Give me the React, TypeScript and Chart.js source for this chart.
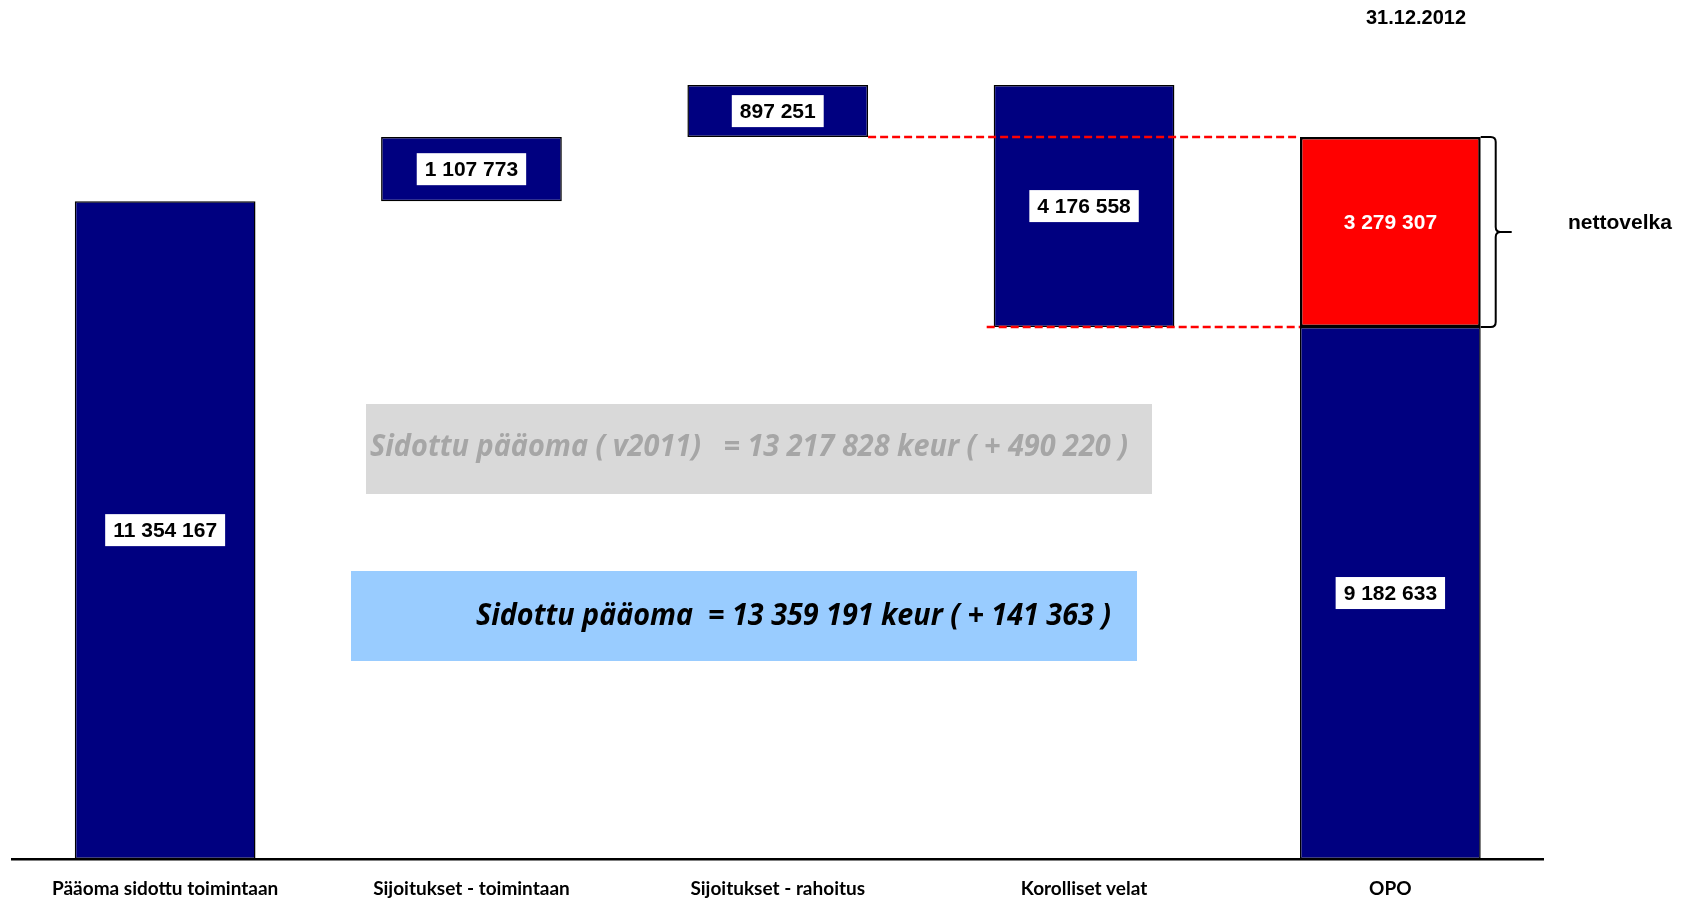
import React, { useEffect, useRef } from 'react';
import { Chart, registerables } from 'chart.js';

Chart.register(...registerables);

// ---- Data ----
const categories = [
  'Pääoma sidottu toimintaan',
  'Sijoitukset - toimintaan',
  'Sijoitukset - rahoitus',
  'Korolliset velat',
  'OPO',
];
const barStarts = [0, 11354167, 12461940, 9182633, 0];
const barEnds = [11354167, 12461940, 13359191, 13359191, 9182633];
const barValues = [11354167, 1107773, 897251, 4176558, 9182633];
const netDebtIndex = 4;
const netDebtRange = [9182633, 12461940];
const netDebtValue = 3279307;
const dateLabel = '31.12.2012';
const netDebtLabel = 'nettovelka';
const prevYearText = 'Sidottu pääoma ( v2011)   = 13 217 828 keur ( + 490 220 )';
const currentText = 'Sidottu pääoma  = 13 359 191 keur ( + 141 363 )';
const yMax = 14000000;

const fmt = (n: number) => String(n).replace(/\B(?=(\d{3})+(?!\d))/g, ' ');

const overlayPlugin = {
  id: 'overlay',
  afterDatasetsDraw(chart: any) {
    const ctx: CanvasRenderingContext2D = chart.ctx;
    const y = chart.scales.y;
    const m0 = chart.getDatasetMeta(0);
    const m1 = chart.getDatasetMeta(1);
    ctx.save();

    // Date title
    ctx.fillStyle = '#000';
    ctx.font = 'bold 20px "Liberation Sans", Arial, sans-serif';
    ctx.textAlign = 'center';
    ctx.textBaseline = 'middle';
    ctx.fillText(dateLabel, 1416, 18);

    // Text boxes
    const drawBox = (x: number, yy: number, w: number, h: number, fill: string, text: string, color: string, tx: number, ty: number, tw: number) => {
      ctx.fillStyle = fill;
      ctx.fillRect(x, yy, w, h);
      ctx.font = 'italic bold 31px "Open Sans", sans-serif';
      const mw = ctx.measureText(text).width;
      const sx = tw / mw;
      ctx.save();
      ctx.translate(tx, ty);
      ctx.scale(sx, 1);
      ctx.fillStyle = color;
      ctx.textAlign = 'left';
      ctx.textBaseline = 'middle';
      ctx.fillText(text, 0, 0);
      ctx.restore();
    };
    drawBox(366, 404, 786, 90, '#d9d9d9', prevYearText, '#a6a6a6', 370, 447, 758);
    drawBox(351, 571, 786, 90, '#99ccff', currentText, '#000', 476, 616, 635);

    // Dashed lines
    const b2: any = m0.data[2];
    const b3: any = m0.data[3];
    const red: any = m1.data[netDebtIndex];
    const yTop = y.getPixelForValue(netDebtRange[1]);
    const yBot = y.getPixelForValue(netDebtRange[0]);
    ctx.strokeStyle = '#ff0000';
    ctx.lineWidth = 2.5;
    ctx.setLineDash([8, 4]);
    ctx.beginPath();
    ctx.moveTo(b2.x + b2.width / 2, yTop);
    ctx.lineTo(red.x - red.width / 2, yTop);
    ctx.moveTo(b3.x - b3.width / 2 - 7, yBot);
    ctx.lineTo(red.x - red.width / 2, yBot);
    ctx.stroke();
    ctx.setLineDash([]);

    // Value labels
    ctx.font = 'bold 21px "Liberation Sans", Arial, sans-serif';
    ctx.textAlign = 'center';
    ctx.textBaseline = 'middle';
    m0.data.forEach((bar: any, i: number) => {
      const cx = bar.x;
      const cy = (bar.y + bar.base) / 2;
      const t = fmt(barValues[i]);
      const w = ctx.measureText(t).width + 16;
      ctx.fillStyle = '#fff';
      ctx.fillRect(cx - w / 2, cy - 16, w, 32);
      ctx.fillStyle = '#000';
      ctx.fillText(t, cx, cy + 1);
    });
    ctx.fillStyle = '#fff';
    ctx.fillText(fmt(netDebtValue), red.x, (red.y + red.base) / 2 - 9);

    // Bracket
    const bx0 = red.x + red.width / 2;
    const bx = bx0 + 15;
    const tip = bx0 + 31;
    const mid = (yTop + yBot) / 2;
    const r = 5;
    ctx.strokeStyle = '#000';
    ctx.lineWidth = 2;
    ctx.beginPath();
    ctx.moveTo(bx0, yTop);
    ctx.lineTo(bx - r, yTop);
    ctx.quadraticCurveTo(bx, yTop, bx, yTop + r);
    ctx.lineTo(bx, mid - r);
    ctx.quadraticCurveTo(bx, mid, bx + r, mid);
    ctx.lineTo(tip, mid);
    ctx.moveTo(bx + r, mid);
    ctx.quadraticCurveTo(bx, mid, bx, mid + r);
    ctx.lineTo(bx, yBot - r);
    ctx.quadraticCurveTo(bx, yBot, bx - r, yBot);
    ctx.lineTo(bx0, yBot);
    ctx.stroke();

    // nettovelka label
    ctx.fillStyle = '#000';
    ctx.font = 'bold 21px "Liberation Sans", Arial, sans-serif';
    ctx.textAlign = 'left';
    ctx.textBaseline = 'middle';
    ctx.fillText(netDebtLabel, 1568, mid - 9);

    ctx.restore();
  },
};

export default function App() {
  const ref = useRef<HTMLCanvasElement>(null);
  useEffect(() => {
    if (!ref.current) return;
    const chart = new Chart(ref.current, {
      type: 'bar',
      data: {
        labels: categories,
        datasets: [
          {
            data: categories.map((_, i) => [barStarts[i], barEnds[i]]) as any,
            backgroundColor: '#000080',
            borderColor: '#000',
            borderWidth: 1.5,
            borderSkipped: false,
            grouped: false,
            barPercentage: 0.59,
            categoryPercentage: 1,
            order: 1,
          },
          {
            data: categories.map((_, i) => (i === netDebtIndex ? [netDebtRange[0], netDebtRange[1]] : null)) as any,
            backgroundColor: '#ff0000',
            borderColor: '#000',
            borderWidth: 2.5,
            borderSkipped: false,
            grouped: false,
            barPercentage: 0.59,
            categoryPercentage: 1,
            order: 0,
          },
        ],
      },
      options: {
        responsive: false,
        animation: false,
        devicePixelRatio: 1,
        layout: { padding: { left: 12, right: 138.5, top: 48, bottom: 0 } },
        plugins: { legend: { display: false }, tooltip: { enabled: false }, title: { display: false } },
        scales: {
          x: {
            grid: { display: false, drawTicks: false },
            border: { display: true, color: '#000', width: 2.5 },
            ticks: {
              color: '#000',
              font: { family: 'Lato, sans-serif', size: 19, weight: 'bold' },
              padding: 18,
              maxRotation: 0,
              autoSkip: false,
            },
            afterFit: (scale: any) => {
              scale.height = 42;
            },
          },
          y: { display: false, min: 0, max: yMax },
        },
      },
      plugins: [overlayPlugin],
    });
    return () => chart.destroy();
  }, []);
  return (
    <div style={{ position: 'fixed', left: 0, top: 0, width: 1682, height: 901, background: '#fff' }}>
      <canvas ref={ref} width={1682} height={901} style={{ width: 1682, height: 901, display: 'block' }} />
    </div>
  );
}
